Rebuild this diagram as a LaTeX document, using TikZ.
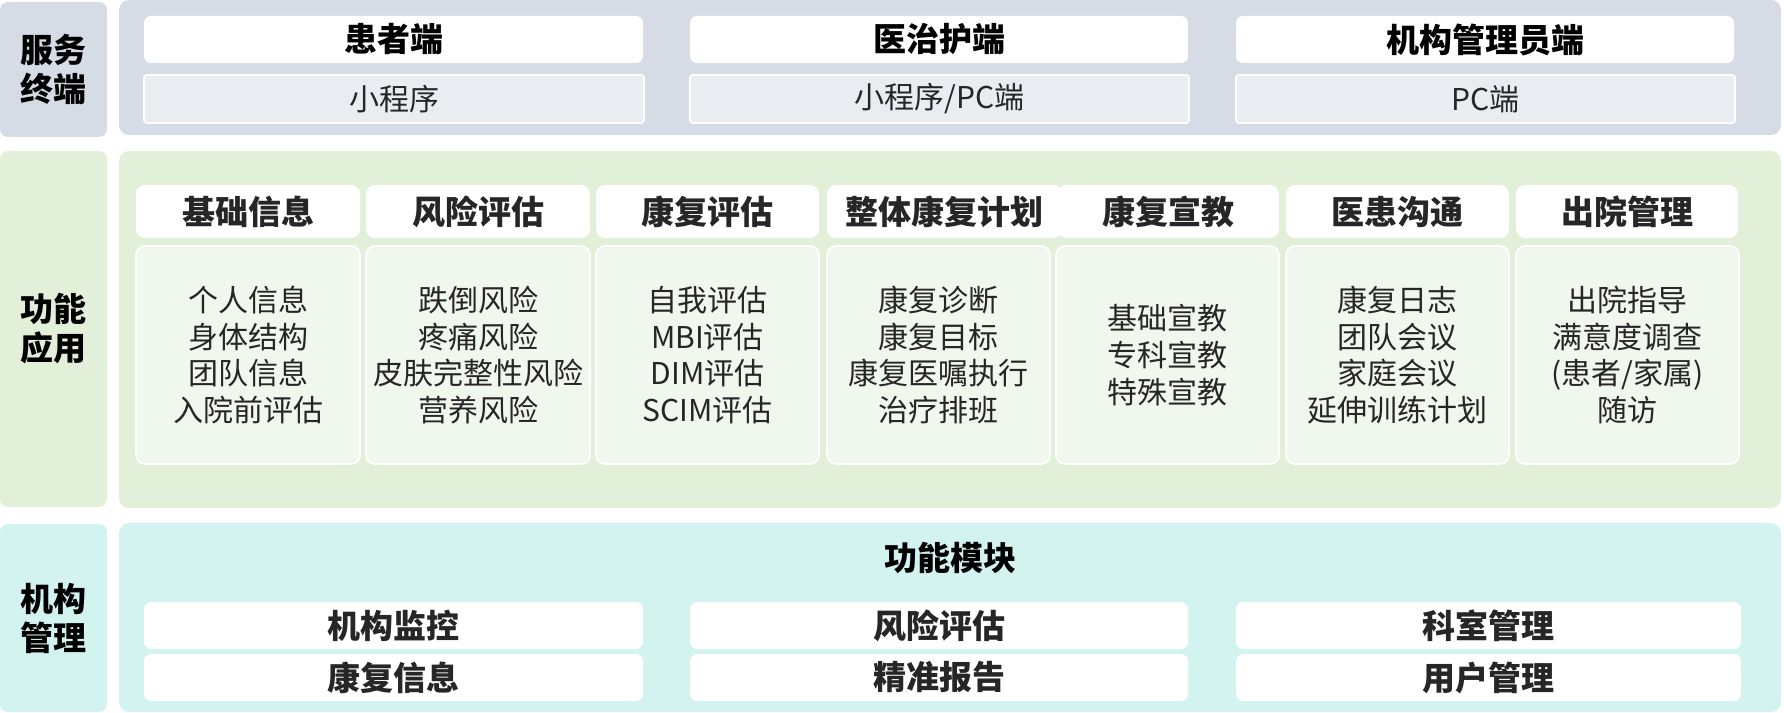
\documentclass[tikz,border=0pt]{standalone}
\usepackage{fontspec}
\setmainfont{Noto Sans CJK SC}
\definecolor{grayblue}{HTML}{D6DCE5}
\definecolor{subgray}{HTML}{E9ECF1}
\definecolor{lightgreen}{HTML}{E2F0D9}
\definecolor{palegreen}{HTML}{F0F7EC}
\definecolor{cyanbg}{HTML}{D3F3F0}
\definecolor{txt}{HTML}{262626}
\newcommand\bx[7]{\node[#6, minimum width={(#4-#2)*0.75pt}, minimum height={(#5-#3)*0.75pt}] (#1) at ({(#2+#4)/2},{(#3+#5)/2}) {#7};}
\tikzset{
  panel/.style={rectangle, rounded corners=7.5pt, inner sep=0pt, outer sep=0pt},
  labelbox/.style={panel, rounded corners=6pt, align=center, text=black,
    font=\bfseries\fontsize{24.75}{29.25}\selectfont},
  titlebox/.style={panel, fill=white, rounded corners=5.25pt, text=black,
    font=\bfseries\fontsize{24.75}{30}\selectfont},
  subbox/.style={panel, fill=subgray, draw=white, line width=1.2pt, rounded corners=2pt, text=txt,
    font=\fontsize{22.5}{27}\selectfont},
  ftitle/.style={panel, fill=white, rounded corners=6.75pt, text=txt,
    font=\bfseries\fontsize{24.75}{30}\selectfont},
  fcontent/.style={panel, fill=palegreen, draw=white, line width=1.2pt, rounded corners=6.75pt,
    align=center, text=txt, font=\fontsize{22.5}{27.5}\selectfont},
  btitle/.style={panel, fill=white, rounded corners=5.25pt, text=txt,
    font=\bfseries\fontsize{24.75}{30}\selectfont},
}
\begin{document}
\begin{tikzpicture}[x=0.75pt,y=-0.75pt]
\useasboundingbox (0,0) rectangle (1784,713);
% left labels
\bx{L1}{0}{2}{107}{137}{labelbox, fill=grayblue}{服务\\终端}
\bx{L2}{0}{151}{107}{507}{labelbox, fill=lightgreen}{功能\\应用}
\bx{L3}{0}{524}{107}{712}{labelbox, fill=cyanbg}{机构\\管理}
% panels
\bx{P1}{119}{0}{1781}{135}{panel, fill=grayblue}{}
\bx{P2}{119}{151}{1781}{508}{panel, fill=lightgreen}{}
\bx{P3}{119}{523}{1781}{712}{panel, fill=cyanbg}{}
% service terminals
\bx{T1}{144}{16}{643}{63}{titlebox}{患者端}
\bx{T2}{690}{16}{1188}{63}{titlebox}{医治护端}
\bx{T3}{1236}{16}{1734}{63}{titlebox}{机构管理员端}
\bx{S1}{144}{75}{644}{123}{subbox}{小程序}
\bx{S2}{690}{75}{1189}{123}{subbox}{小程序/PC端}
\bx{S3}{1236}{75}{1735}{123}{subbox}{PC端}
% function applications
\bx{F1}{136}{185}{360}{238}{ftitle}{基础信息}
\bx{F2}{366}{185}{590}{238}{ftitle}{风险评估}
\bx{F3}{596}{185}{819}{238}{ftitle}{康复评估}
\bx{F4}{827}{185}{1062}{238}{ftitle}{整体康复计划}
\bx{F5}{1057}{185}{1279}{238}{ftitle}{康复宣教}
\bx{F6}{1286}{185}{1509}{238}{ftitle}{医患沟通}
\bx{F7}{1516}{185}{1738}{238}{ftitle}{出院管理}
\bx{C1}{136}{246}{360}{464}{fcontent}{个人信息\\身体结构\\团队信息\\入院前评估}
\bx{C2}{366}{246}{590}{464}{fcontent}{跌倒风险\\疼痛风险\\皮肤完整性风险\\营养风险}
\bx{C3}{596}{246}{819}{464}{fcontent}{自我评估\\MBI评估\\DIM评估\\SCIM评估}
\bx{C4}{827}{246}{1050}{464}{fcontent}{康复诊断\\康复目标\\康复医嘱执行\\治疗排班}
\bx{C5}{1056}{246}{1279}{464}{fcontent}{基础宣教\\专科宣教\\特殊宣教}
\bx{C6}{1286}{246}{1509}{464}{fcontent}{康复日志\\团队会议\\家庭会议\\延伸训练计划}
\bx{C7}{1516}{246}{1739}{464}{fcontent}{出院指导\\满意度调查\\(患者/家属)\\随访}
% institution management
\node[font=\bfseries\fontsize{24.75}{30}\selectfont, text=black, inner sep=0pt] (M) at (950,558) {功能模块};
\bx{B1}{144}{602}{643}{649}{btitle}{机构监控}
\bx{B2}{690}{602}{1188}{649}{btitle}{风险评估}
\bx{B3}{1236}{602}{1741}{649}{btitle}{科室管理}
\bx{B4}{144}{654}{643}{701}{btitle}{康复信息}
\bx{B5}{690}{654}{1188}{701}{btitle}{精准报告}
\bx{B6}{1236}{654}{1741}{701}{btitle}{用户管理}
\end{tikzpicture}
\end{document}
